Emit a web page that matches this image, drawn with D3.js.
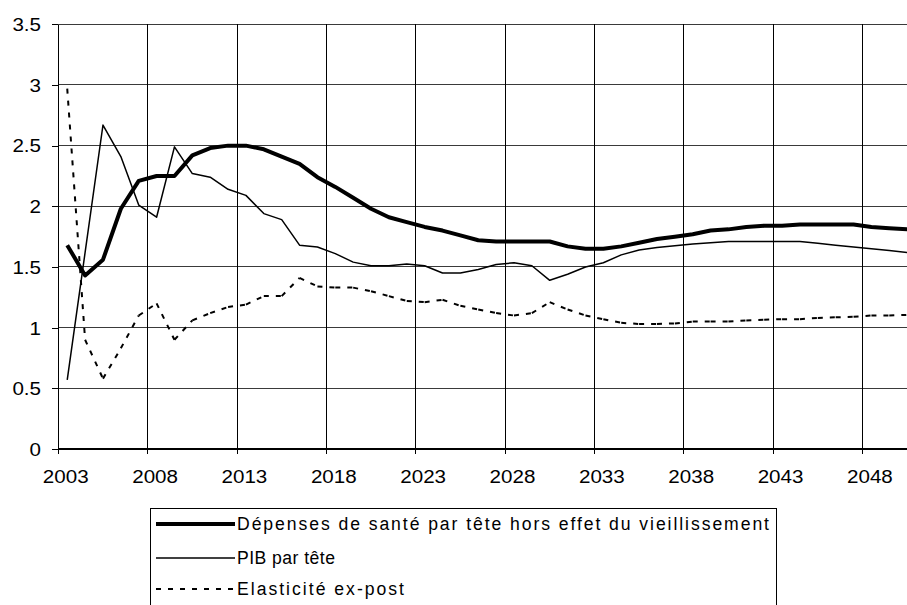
<!DOCTYPE html>
<html>
<head>
<meta charset="utf-8">
<script src="https://cdn.jsdelivr.net/npm/d3@7"></script>
<style>
  body { margin: 0; background: #fff; }
  svg { display: block; }
  text { font-family: "Liberation Sans", Arial, sans-serif; fill: #000; }
</style>
</head>
<body>
<svg id="chart" width="907" height="605"></svg>
<script>
// Years on the category axis
const years = d3.range(2003, 2051);

// Dépenses de santé par tête hors effet du vieillissement
const depenses = [1.68, 1.43, 1.56, 1.98, 2.21, 2.25, 2.25, 2.42, 2.48, 2.50,
                  2.50, 2.47, 2.41, 2.35, 2.24, 2.16, 2.07, 1.98, 1.91, 1.87,
                  1.83, 1.80, 1.76, 1.72, 1.71, 1.71, 1.71, 1.71, 1.67, 1.65,
                  1.65, 1.67, 1.70, 1.73, 1.75, 1.77, 1.80, 1.81, 1.83, 1.84,
                  1.84, 1.85, 1.85, 1.85, 1.85, 1.83, 1.82, 1.81];

// PIB par tête
const pib = [0.57, 1.62, 2.67, 2.41, 2.01, 1.91, 2.49, 2.27, 2.24, 2.14,
             2.09, 1.94, 1.89, 1.68, 1.665, 1.61, 1.54, 1.51, 1.51, 1.525,
             1.51, 1.45, 1.45, 1.48, 1.52, 1.535, 1.51, 1.39, 1.44, 1.50,
             1.535, 1.60, 1.64, 1.66, 1.675, 1.69, 1.70, 1.71, 1.71, 1.71,
             1.71, 1.71, 1.695, 1.68, 1.665, 1.65, 1.635, 1.62];

// Elasticité ex-post
const elasticite = [2.97, 0.90, 0.58, 0.83, 1.10, 1.20, 0.90, 1.06, 1.12, 1.17,
                    1.19, 1.26, 1.26, 1.41, 1.34, 1.33, 1.33, 1.30, 1.26, 1.22,
                    1.21, 1.23, 1.18, 1.15, 1.12, 1.10, 1.12, 1.21, 1.15, 1.10,
                    1.07, 1.04, 1.03, 1.03, 1.035, 1.05, 1.05, 1.05, 1.06, 1.065,
                    1.07, 1.07, 1.08, 1.085, 1.09, 1.10, 1.10, 1.105];

const yTickValues = [0, 0.5, 1, 1.5, 2, 2.5, 3, 3.5];
const yTickLabels = ["0", "0.5", "1", "1.5", "2", "2.5", "3", "3.5"];
const xTickYears = [2003, 2008, 2013, 2018, 2023, 2028, 2033, 2038, 2043, 2048];
const xTickLabels = ["2003", "2008", "2013", "2018", "2023", "2028", "2033", "2038", "2043", "2048"];
const legendLabels = ["Dépenses de santé par tête hors effet du vieillissement",
                      "PIB par tête",
                      "Elasticité ex-post"];

const svg = d3.select("#chart");
const W = 907;

// Category scale: each year owns a slot, gridlines sit on slot boundaries
const x = d3.scaleBand().domain(years).range([58.3, 916.1]).padding(0);
const cx = yr => x(yr) + x.bandwidth() / 2;
const y = d3.scaleLinear().domain([0, 3.5]).range([449, 24.3]);

const FONT = 17.6;
const STRETCH = 1.17;

function widen(sel, k) {
  sel.each(function () {
    const w = this.getComputedTextLength();
    this.setAttribute("textLength", w * k);
    this.setAttribute("lengthAdjust", "spacingAndGlyphs");
  });
}

// Horizontal gridlines
svg.append("g")
  .selectAll("line")
  .data(yTickValues.filter(v => v > 0))
  .join("line")
  .attr("x1", x(2003)).attr("x2", W)
  .attr("y1", d => y(d)).attr("y2", d => y(d))
  .attr("stroke", "#3a3a3a").attr("stroke-width", 1)
  .attr("shape-rendering", "crispEdges");

// Vertical gridlines every five years
svg.append("g")
  .selectAll("line")
  .data(xTickYears.slice(1))
  .join("line")
  .attr("x1", d => x(d)).attr("x2", d => x(d))
  .attr("y1", y(3.5)).attr("y2", y(0))
  .attr("stroke", "#000").attr("stroke-width", 1)
  .attr("shape-rendering", "crispEdges");

// Left axis
const yAxis = svg.append("g")
  .attr("transform", `translate(${x(2003)},0)`)
  .call(d3.axisLeft(y).tickValues(yTickValues)
    .tickFormat((d, i) => yTickLabels[i])
    .tickSize(6).tickPadding(11.3).tickSizeOuter(0));
yAxis.select(".domain").attr("stroke", "#000").attr("shape-rendering", "crispEdges");
yAxis.selectAll(".tick line").attr("stroke", "#000").attr("shape-rendering", "crispEdges");
yAxis.selectAll(".tick text")
  .attr("font-size", FONT)
  .attr("font-family", "Liberation Sans, Arial, sans-serif")
  .attr("dy", "0.36em");
widen(yAxis.selectAll(".tick text"), STRETCH);

// Bottom axis: base line, boundary ticks, labels centred on their year
const xAxis = svg.append("g");
xAxis.append("line")
  .attr("x1", x(2003)).attr("x2", W)
  .attr("y1", y(0)).attr("y2", y(0))
  .attr("stroke", "#000").attr("stroke-width", 2);
xAxis.selectAll("line.tk")
  .data(xTickYears)
  .join("line").attr("class", "tk")
  .attr("x1", d => x(d)).attr("x2", d => x(d))
  .attr("y1", y(0)).attr("y2", y(0) + 5)
  .attr("stroke", "#000").attr("shape-rendering", "crispEdges");
const xLabels = xAxis.selectAll("text")
  .data(xTickYears)
  .join("text")
  .attr("x", d => cx(d) - 1.5)
  .attr("y", 482.7)
  .attr("text-anchor", "middle")
  .attr("font-size", FONT)
  .text((d, i) => xTickLabels[i]);
widen(xLabels, STRETCH);

// Series lines
const line = d3.line()
  .x(d => cx(d[0]))
  .y(d => y(d[1]));

const elasPts = years.map((yr, i) => [yr, elasticite[i]]);
const pibPts = years.map((yr, i) => [yr, pib[i]]);
const depPts = years.map((yr, i) => [yr, depenses[i]]);

// Dashed series: the dash pattern restarts on each segment
svg.append("g")
  .selectAll("path")
  .data(d3.pairs(elasPts))
  .join("path")
  .attr("d", d => line(d))
  .attr("fill", "none")
  .attr("stroke", "#000")
  .attr("stroke-width", 2)
  .attr("stroke-dasharray", "5,7");

svg.append("path")
  .attr("d", line(pibPts))
  .attr("fill", "none")
  .attr("stroke", "#000")
  .attr("stroke-width", 1.5)
  .attr("stroke-linejoin", "round");

svg.append("path")
  .attr("d", line(depPts))
  .attr("fill", "none")
  .attr("stroke", "#000")
  .attr("stroke-width", 4)
  .attr("stroke-linejoin", "round");

// Legend
const legend = svg.append("g");
legend.append("rect")
  .attr("x", 150.5).attr("y", 508.5)
  .attr("width", 626).attr("height", 140)
  .attr("fill", "#fff").attr("stroke", "#000").attr("stroke-width", 1);

const rowY = [524, 558, 589];
const styles = [
  { w: 4, dash: null },
  { w: 1.5, dash: null },
  { w: 2, dash: "5,7" }
];
const textWidths = [532, 98, 167];

legendLabels.forEach((lab, i) => {
  legend.append("line")
    .attr("x1", 156).attr("x2", 235)
    .attr("y1", rowY[i]).attr("y2", rowY[i])
    .attr("stroke", "#000")
    .attr("stroke-width", styles[i].w)
    .attr("stroke-dasharray", styles[i].dash);
  legend.append("text")
    .attr("x", 237)
    .attr("y", rowY[i] + 5.5)
    .attr("font-size", FONT)
    .attr("textLength", textWidths[i])
    .attr("lengthAdjust", "spacing")
    .text(lab);
});
</script>
</body>
</html>
